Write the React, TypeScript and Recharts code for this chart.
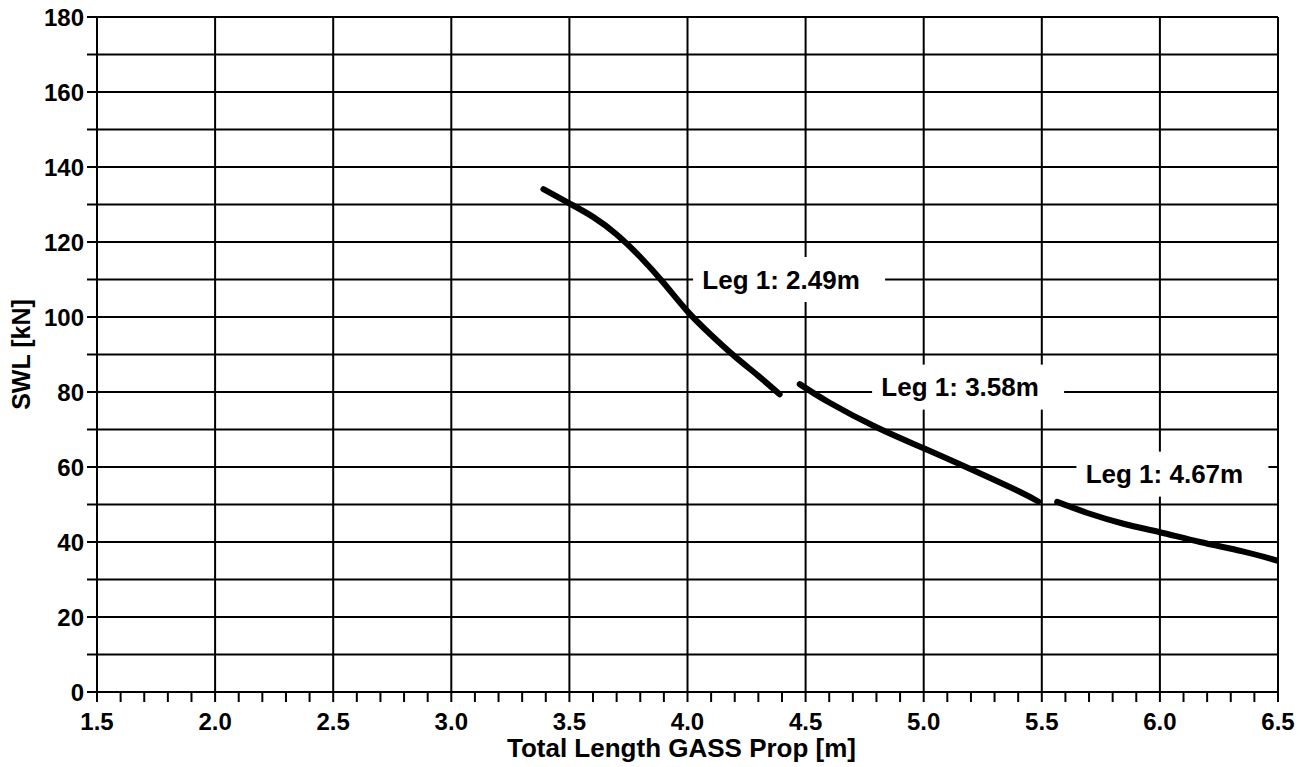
import { LineChart, Line, XAxis, YAxis, CartesianGrid, ReferenceDot } from "recharts";

const leg249 = [
    { len: 3.39, swl: 134.1 },
    { len: 3.5, swl: 130.3 },
    { len: 3.6, swl: 126.7 },
    { len: 3.7, swl: 122.0 },
    { len: 3.8, swl: 116.0 },
    { len: 3.9, swl: 109.0 },
    { len: 4.0, swl: 101.5 },
    { len: 4.1, swl: 95.2 },
    { len: 4.2, swl: 89.5 },
    { len: 4.3, swl: 84.3 },
    { len: 4.39, swl: 79.4 },
];

const leg358 = [
    { len: 4.475, swl: 82.1 },
    { len: 4.6, swl: 77.2 },
    { len: 4.8, swl: 70.6 },
    { len: 5.0, swl: 65.0 },
    { len: 5.2, swl: 59.4 },
    { len: 5.4, swl: 53.6 },
    { len: 5.485, swl: 50.8 },
];

const leg467 = [
    { len: 5.565, swl: 50.7 },
    { len: 5.7, swl: 47.6 },
    { len: 5.85, swl: 44.8 },
    { len: 6.0, swl: 42.6 },
    { len: 6.17, swl: 40.0 },
    { len: 6.35, swl: 37.5 },
    { len: 6.5, swl: 35.0 },
];

const curveLabels = [
    { text: "Leg 1: 2.49m", len: 4.43, swl: 110 },
    { text: "Leg 1: 3.58m", len: 5.188, swl: 81.3 },
    { text: "Leg 1: 4.67m", len: 6.053, swl: 58.1 },
];

const xTicks = [
    1.5, 1.6, 1.7, 1.8, 1.9, 2.0, 2.1, 2.2, 2.3, 2.4, 2.5, 2.6, 2.7, 2.8, 2.9,
    3.0, 3.1, 3.2, 3.3, 3.4, 3.5, 3.6, 3.7, 3.8, 3.9, 4.0, 4.1, 4.2, 4.3, 4.4,
    4.5, 4.6, 4.7, 4.8, 4.9, 5.0, 5.1, 5.2, 5.3, 5.4, 5.5, 5.6, 5.7, 5.8, 5.9,
    6.0, 6.1, 6.2, 6.3, 6.4, 6.5,
];
const xMajor = [1.5, 2.0, 2.5, 3.0, 3.5, 4.0, 4.5, 5.0, 5.5, 6.0, 6.5];
const yTicks = [0, 10, 20, 30, 40, 50, 60, 70, 80, 90, 100, 110, 120, 130, 140, 150, 160, 170, 180];

const FONT = "'Liberation Sans', Arial, sans-serif";

const isMajorX = (v: number) => xMajor.some((m) => Math.abs(m - v) < 1e-6);

function LabelBox(props: any) {
    const { cx, cy, text } = props;
    const w = 192;
    const h = 45;
    return (
        <g>
            <rect x={cx - w / 2} y={cy - h / 2} width={w} height={h} fill="#fff" />
            <text
                x={cx - 8}
                y={cy}
                textAnchor="middle"
                dominantBaseline="central"
                fontFamily={FONT}
                fontWeight="bold"
                fontSize={26}
                fill="#000"
            >
                {text}
            </text>
        </g>
    );
}

export default function App() {
    const tickStyle = { fill: "#000", fontSize: 24, fontWeight: "bold", fontFamily: FONT };
    return (
        // pull the chart over the body margin so the whole page is usable
        <div style={{ width: 1307, height: 767, margin: "-8px 0 0 -8px", fontFamily: FONT }}>
            <LineChart width={1307} height={767} margin={{ top: 17, right: 29, left: 8, bottom: 0 }}>
                <CartesianGrid
                    stroke="#000"
                    strokeWidth={2}
                    horizontalValues={yTicks}
                    verticalValues={xMajor}
                />
                <XAxis
                    type="number"
                    dataKey="len"
                    domain={[1.5, 6.5]}
                    ticks={xTicks}
                    interval={0}
                    height={75}
                    tickSize={10}
                    tickMargin={11}
                    stroke="#000"
                    strokeWidth={2}
                    tick={tickStyle}
                    tickFormatter={(v: number) => (isMajorX(v) ? v.toFixed(1) : "")}
                    allowDataOverflow
                    label={{
                        content: (p: any) => (
                            <text
                                x={p.viewBox.x + p.viewBox.width / 2 - 6}
                                y={p.viewBox.y + 65}
                                textAnchor="middle"
                                fontFamily={FONT}
                                fontWeight="bold"
                                fontSize={26}
                                fill="#000"
                            >
                                Total Length GASS Prop [m]
                            </text>
                        ),
                    }}
                />
                <YAxis
                    type="number"
                    domain={[0, 180]}
                    ticks={yTicks}
                    interval={0}
                    width={89}
                    tickSize={10}
                    tickMargin={3}
                    stroke="#000"
                    strokeWidth={2}
                    tick={tickStyle}
                    tickFormatter={(v: number) => (v % 20 === 0 ? String(v) : "")}
                    label={{
                        content: (p: any) => {
                            const x = 21;
                            const y = p.viewBox.y + p.viewBox.height / 2;
                            return (
                                <text
                                    x={x}
                                    y={y}
                                    transform={`rotate(-90, ${x}, ${y})`}
                                    textAnchor="middle"
                                    dominantBaseline="central"
                                    fontFamily={FONT}
                                    fontWeight="bold"
                                    fontSize={25}
                                    fill="#000"
                                >
                                    SWL [kN]
                                </text>
                            );
                        },
                    }}
                />
                {curveLabels.map((l) => (
                    <ReferenceDot
                        key={l.text}
                        x={l.len}
                        y={l.swl}
                        r={0}
                        ifOverflow="visible"
                        shape={(p: any) => <LabelBox {...p} text={l.text} />}
                    />
                ))}
                {[leg249, leg358, leg467].map((d, i) => (
                    <Line
                        key={i}
                        data={d}
                        dataKey="swl"
                        type="natural"
                        stroke="#000"
                        strokeWidth={6}
                        strokeLinecap="round"
                        dot={false}
                        activeDot={false}
                        isAnimationActive={false}
                    />
                ))}
            </LineChart>
        </div>
    );
}
